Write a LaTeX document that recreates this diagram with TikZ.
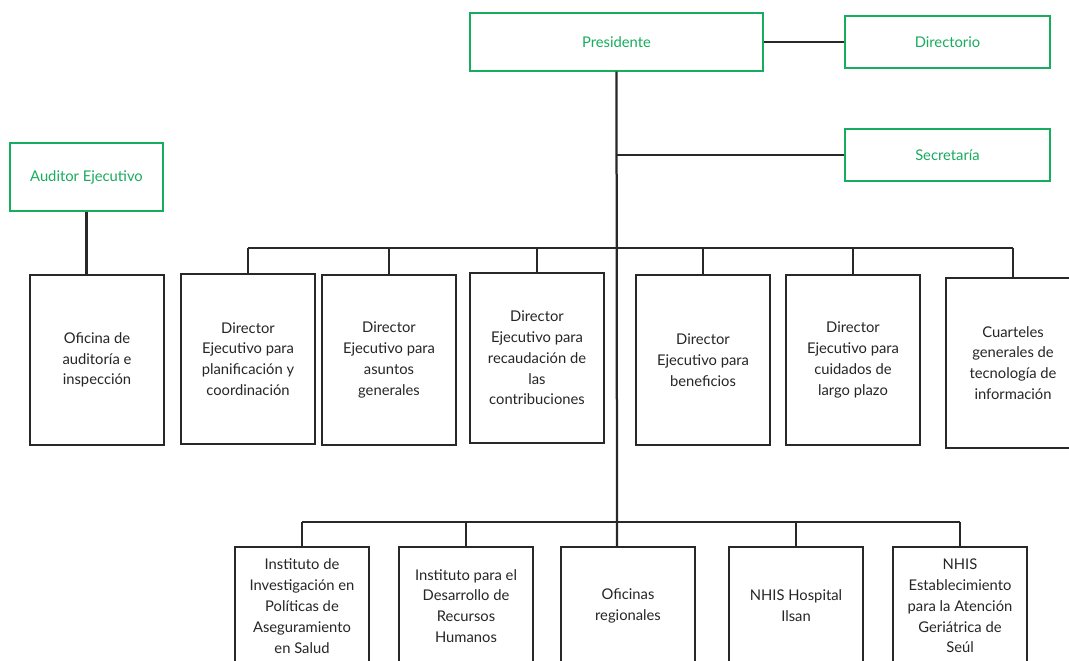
\documentclass[tikz,border=0pt]{standalone}
\usepackage{fontspec}
\setmainfont{Lato}
\usetikzlibrary{positioning}
\definecolor{nhisgreen}{RGB}{24,172,94}
\definecolor{linegray}{RGB}{40,40,40}
\tikzset{
  gnode/.style={rectangle, draw=nhisgreen, line width=1.5pt, fill=white, text=nhisgreen, font=\fontsize{10.5}{14.8}\selectfont, align=center, inner sep=0pt},
  unode/.style={rectangle, draw=linegray, line width=1.5pt, fill=white, text=black!85, minimum width=3.35cm, minimum height=4.25cm, font=\fontsize{10.5}{14.8}\selectfont, align=center, inner sep=0pt},
  lnode/.style={unode, minimum height=2.93cm},
  conn/.style={draw=linegray, line width=1.6pt},
}

\begin{document}
\begin{tikzpicture}[x=0.025cm, y=-0.025cm]

  \useasboundingbox (0,0) rectangle (1069,660);
  \clip (0,0) rectangle (1069,660);

  %% ==================
  %% Top level
  %% ==================
  \node[gnode, minimum width=7.33cm, minimum height=1.43cm] (pres) at (616.5,42) {Presidente};
  \node[gnode, minimum width=5.13cm, minimum height=1.28cm] (dir) at (947.5,42) {Directorio};
  \node[gnode, minimum width=5.13cm, minimum height=1.28cm] (sec) at (947.5,155) {Secretaría};
  \node[gnode, minimum width=3.83cm, minimum height=1.7cm] (aud) at (86.5,177) {Auditor Ejecutivo};

  \coordinate (mid) at (617,248);
  \coordinate (bot) at (617,522);

  %% ==================
  %% Middle row
  %% ==================
  \node[unode] (ofi) at (97,360) {Oficina de\\auditoría e\\inspección};
  \node[unode] (u1) at (248,359) {Director\\Ejecutivo para\\planificación y\\coordinación};
  \node[unode] (u2) at (389,360) {Director\\Ejecutivo para\\asuntos\\generales};
  \node[unode] (u3) at (537,358) {Director\\Ejecutivo para\\recaudación de\\las\\contribuciones};
  \node[unode] (u4) at (703,360) {Director\\Ejecutivo para\\beneficios};
  \node[unode] (u5) at (853,360) {Director\\Ejecutivo para\\cuidados de\\largo plazo};
  \node[unode] (u6) at (1013,363) {Cuarteles\\generales de\\tecnología de\\información};

  %% ==================
  %% Bottom row
  %% ==================
  \node[lnode] (b1) at (302,606) {Instituto de\\Investigación en\\Políticas de\\Aseguramiento\\en Salud};
  \node[lnode] (b2) at (466,606) {Instituto para el\\Desarrollo de\\Recursos\\Humanos};
  \node[lnode] (b3) at (628,606) {Oficinas\\regionales};
  \node[lnode] (b4) at (796,606) {NHIS Hospital\\Ilsan};
  \node[lnode] (b5) at (960,606) {NHIS\\Establecimiento\\para la Atención\\Geriátrica de\\Seúl};

  % Connectors
  \draw[conn] (pres.east) -- (dir.west);
  \draw[conn] (pres.south) -- (bot) -- (bot |- b3.north);
  \draw[conn] (sec.west) -- (sec.west -| mid);
  \draw[conn] (aud.south) -- (aud.south |- ofi.north);

  \draw[conn] (u1.north |- mid) -- (u6.north |- mid);
  \foreach \u in {u1,u2,u3,u4,u5,u6}
    \draw[conn] (\u.north) -- (\u.north |- mid);

  \draw[conn] (b1.north |- bot) -- (b5.north |- bot);
  \foreach \b in {b1,b2,b4,b5}
    \draw[conn] (\b.north) -- (\b.north |- bot);

\end{tikzpicture}
\end{document}
